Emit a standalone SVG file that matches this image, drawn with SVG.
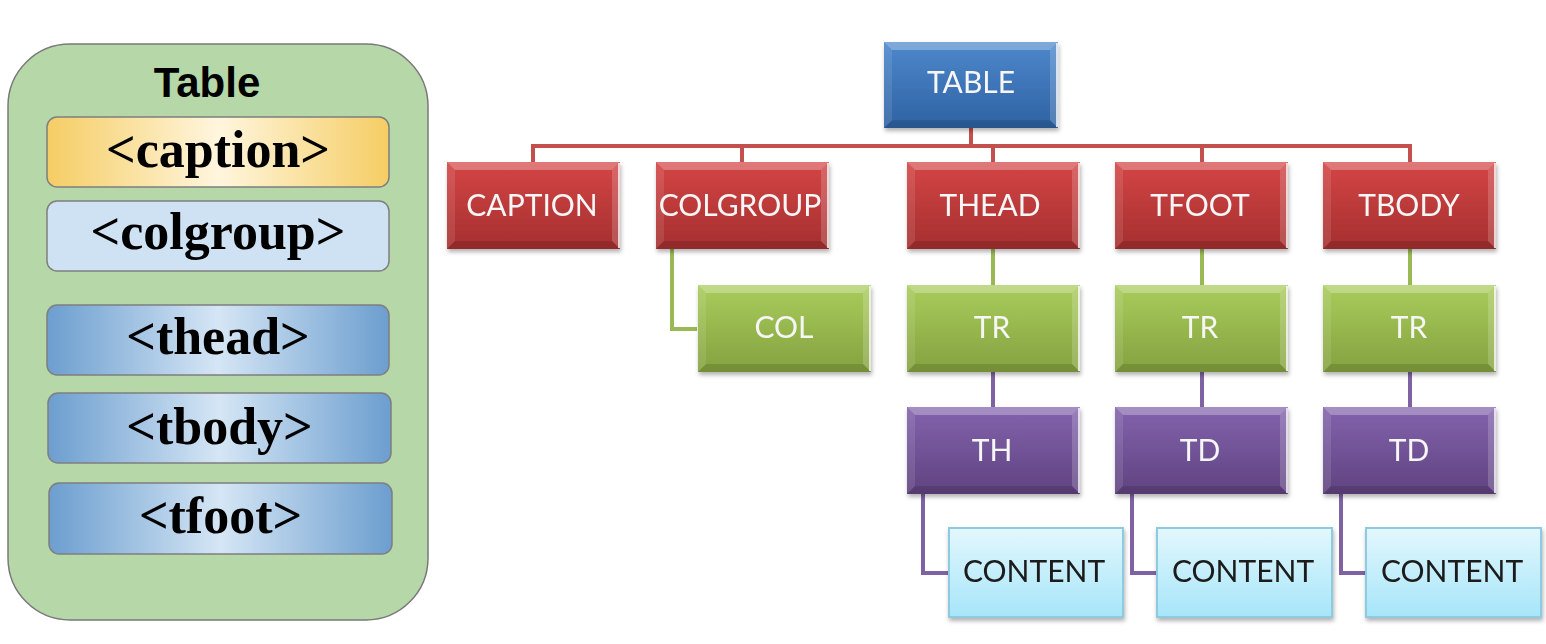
<svg xmlns="http://www.w3.org/2000/svg" xmlns:xlink="http://www.w3.org/1999/xlink" width="1546" height="644" viewBox="0 0 1546 644">
<defs>
  <linearGradient id="gBlue" x1="0" y1="0" x2="0" y2="1">
    <stop offset="0" stop-color="#4d88cc"/><stop offset="1" stop-color="#2e62a2"/>
  </linearGradient>
  <linearGradient id="gRed" x1="0" y1="0" x2="0" y2="1">
    <stop offset="0" stop-color="#d44545"/><stop offset="1" stop-color="#a52f2f"/>
  </linearGradient>
  <linearGradient id="gGreen" x1="0" y1="0" x2="0" y2="1">
    <stop offset="0" stop-color="#a9cc5c"/><stop offset="1" stop-color="#84a23f"/>
  </linearGradient>
  <linearGradient id="gPurple" x1="0" y1="0" x2="0" y2="1">
    <stop offset="0" stop-color="#8363ad"/><stop offset="1" stop-color="#5f4380"/>
  </linearGradient>
  <linearGradient id="gCyan" x1="0" y1="0" x2="0" y2="1">
    <stop offset="0" stop-color="#e3f7fd"/><stop offset="1" stop-color="#a6e6f9"/>
  </linearGradient>
  <linearGradient id="gGold" x1="0" y1="0" x2="1" y2="0">
    <stop offset="0" stop-color="#f5cd64"/><stop offset="0.5" stop-color="#fff6de"/><stop offset="1" stop-color="#f5cd64"/>
  </linearGradient>
  <linearGradient id="gSteel" x1="0" y1="0" x2="1" y2="0">
    <stop offset="0" stop-color="#6c9ecf"/><stop offset="0.5" stop-color="#d5e6f5"/><stop offset="1" stop-color="#6c9ecf"/>
  </linearGradient>
  <filter id="shadow" x="-10%" y="-10%" width="125%" height="130%">
    <feDropShadow dx="1" dy="3" stdDeviation="2" flood-color="#000" flood-opacity="0.3"/>
  </filter>
  <g id="bevel">
    <polygon points="0,0 173,0 165,8 8,8" fill="#ffffff" fill-opacity="0.28"/>
    <polygon points="0,0 8,8 8,79 0,87" fill="#ffffff" fill-opacity="0.1"/>
    <polygon points="173,0 173,87 165,79 165,8" fill="#ffffff" fill-opacity="0.18"/>
    <polygon points="0,87 8,79 165,79 173,87" fill="#000000" fill-opacity="0.12"/>
    <line x1="172" y1="1" x2="172" y2="86" stroke="#ffffff" stroke-opacity="0.75" stroke-width="2"/>
  </g>
</defs>
<style>
  .panel { fill: #b6d7a8; stroke: #7a7a7a; stroke-width: 1.5; }
  .tag { stroke: #7f7f7f; stroke-width: 1.5; }
  .tagtxt { font-family: "Liberation Serif", "Times New Roman", serif; font-weight: bold; font-size: 52px; fill: #000; text-anchor: middle; }
  .title { font-family: "Liberation Sans", Arial, sans-serif; font-weight: bold; font-size: 42px; fill: #000; text-anchor: middle; }
  .node { filter: url(#shadow); }
  .ntxt { font-family: Lato, "Liberation Sans", sans-serif; font-size: 30px; fill: #f6f6f6; text-anchor: middle; }
  .ctxt { font-family: Lato, "Liberation Sans", sans-serif; font-size: 30px; fill: #1a1a1a; text-anchor: middle; }
  .cbox { fill: url(#gCyan); stroke: #8ecbe0; stroke-width: 2; }
  .red { fill: none; stroke: #c4504e; stroke-width: 4; }
  .green { fill: none; stroke: #98b954; stroke-width: 4; }
  .purple { fill: none; stroke: #7e62a3; stroke-width: 4; }
</style>

<!-- Left panel -->
<g id="panel">
  <rect class="panel" x="8" y="44" width="420" height="576" rx="62" ry="62"/>
  <text class="title" x="207" y="97">Table</text>
</g>
<g id="tag-caption">
  <rect class="tag" x="47" y="117" width="342" height="70" rx="10" fill="url(#gGold)"/>
  <text class="tagtxt" x="218" y="167">&lt;caption&gt;</text>
</g>
<g id="tag-colgroup">
  <rect class="tag" x="47" y="201" width="342" height="70" rx="10" fill="#cfe2f3"/>
  <text class="tagtxt" x="218" y="249">&lt;colgroup&gt;</text>
</g>
<g id="tag-thead">
  <rect class="tag" x="47" y="305" width="342" height="70" rx="10" fill="url(#gSteel)"/>
  <text class="tagtxt" x="218" y="354">&lt;thead&gt;</text>
</g>
<g id="tag-tbody">
  <rect class="tag" x="48" y="393" width="343" height="70" rx="10" fill="url(#gSteel)"/>
  <text class="tagtxt" x="219.5" y="444">&lt;tbody&gt;</text>
</g>
<g id="tag-tfoot">
  <rect class="tag" x="49" y="483" width="343" height="71" rx="10" fill="url(#gSteel)"/>
  <text class="tagtxt" x="220.5" y="533">&lt;tfoot&gt;</text>
</g>

<!-- Connectors -->
<g id="connectors">
  <path class="red" d="M971,128 V146 M533,162 V146 H1410 V162 M742,146 V162 M993,146 V162 M1202,146 V162"/>
  <path class="green" d="M672,249 V329 H697 M993,249 V285 M1202,249 V285 M1410,249 V285"/>
  <path class="purple" d="M993,371 V407 M1202,371 V407 M1410,371 V407 M923,494 V573 H949 M1132,494 V573 H1157 M1341,494 V573 H1366"/>
</g>

<!-- Tree nodes -->
<g id="n-table" class="node">
  <rect x="884" y="42" width="174" height="86" fill="url(#gBlue)"/>
  <use href="#bevel" transform="translate(884,42) scale(1.006,0.989)"/>
  <text class="ntxt" x="971" y="93">TABLE</text>
</g>
<g id="n-caption" class="node">
  <rect x="447" y="162" width="173" height="87" fill="url(#gRed)"/>
  <use href="#bevel" x="447" y="162"/>
  <text class="ntxt" x="532" y="216">CAPTION</text>
</g>
<g id="n-colgroup" class="node">
  <rect x="656" y="162" width="173" height="87" fill="url(#gRed)"/>
  <use href="#bevel" x="656" y="162"/>
  <text class="ntxt" x="740" y="216">COLGROUP</text>
</g>
<g id="n-thead" class="node">
  <rect x="907" y="162" width="173" height="87" fill="url(#gRed)"/>
  <use href="#bevel" x="907" y="162"/>
  <text class="ntxt" x="990" y="216">THEAD</text>
</g>
<g id="n-tfoot" class="node">
  <rect x="1115" y="162" width="173" height="87" fill="url(#gRed)"/>
  <use href="#bevel" x="1115" y="162"/>
  <text class="ntxt" x="1200" y="216">TFOOT</text>
</g>
<g id="n-tbody" class="node">
  <rect x="1323" y="162" width="173" height="87" fill="url(#gRed)"/>
  <use href="#bevel" x="1323" y="162"/>
  <text class="ntxt" x="1409" y="216">TBODY</text>
</g>

<g id="n-col" class="node">
  <rect x="698" y="285" width="173" height="87" fill="url(#gGreen)"/>
  <use href="#bevel" x="698" y="285"/>
  <text class="ntxt" x="784" y="338">COL</text>
</g>
<g id="n-tr1" class="node">
  <rect x="907" y="285" width="173" height="87" fill="url(#gGreen)"/>
  <use href="#bevel" x="907" y="285"/>
  <text class="ntxt" x="992" y="338">TR</text>
</g>
<g id="n-tr2" class="node">
  <rect x="1115" y="285" width="173" height="87" fill="url(#gGreen)"/>
  <use href="#bevel" x="1115" y="285"/>
  <text class="ntxt" x="1200" y="338">TR</text>
</g>
<g id="n-tr3" class="node">
  <rect x="1323" y="285" width="173" height="87" fill="url(#gGreen)"/>
  <use href="#bevel" x="1323" y="285"/>
  <text class="ntxt" x="1409" y="338">TR</text>
</g>

<g id="n-th" class="node">
  <rect x="907" y="407" width="173" height="87" fill="url(#gPurple)"/>
  <use href="#bevel" x="907" y="407"/>
  <text class="ntxt" x="992" y="461">TH</text>
</g>
<g id="n-td1" class="node">
  <rect x="1115" y="407" width="173" height="87" fill="url(#gPurple)"/>
  <use href="#bevel" x="1115" y="407"/>
  <text class="ntxt" x="1200" y="461">TD</text>
</g>
<g id="n-td2" class="node">
  <rect x="1323" y="407" width="173" height="87" fill="url(#gPurple)"/>
  <use href="#bevel" x="1323" y="407"/>
  <text class="ntxt" x="1409" y="461">TD</text>
</g>

<g id="n-content1" class="node">
  <rect class="cbox" x="949" y="528" width="174" height="89"/>
  <text class="ctxt" x="1034" y="582">CONTENT</text>
</g>
<g id="n-content2" class="node">
  <rect class="cbox" x="1157" y="528" width="175" height="89"/>
  <text class="ctxt" x="1243" y="582">CONTENT</text>
</g>
<g id="n-content3" class="node">
  <rect class="cbox" x="1366" y="528" width="175" height="89"/>
  <text class="ctxt" x="1452" y="582">CONTENT</text>
</g>
</svg>
